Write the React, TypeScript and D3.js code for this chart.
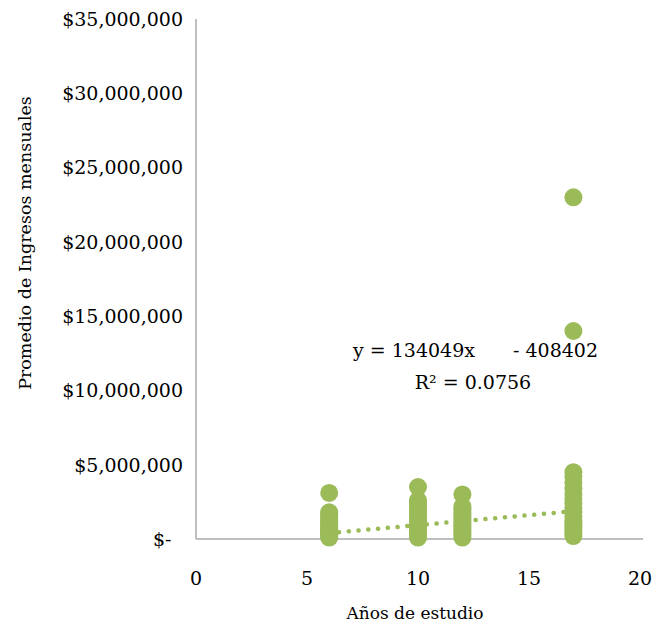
import * as d3 from 'd3';

// Años de estudio por grupo y promedio de ingresos mensuales (pesos)
const years = [6, 10, 12, 17];

const incomes6 = [
  3100000, 1800000, 1650000, 1500000, 1350000, 1200000, 1050000, 900000, 800000, 700000,
  600000, 500000, 400000, 300000, 200000, 100000,
];
const incomes10 = [
  3500000, 2600000, 2450000, 2300000, 2100000, 1900000, 1700000, 1500000, 1300000, 1150000,
  1000000, 850000, 700000, 550000, 400000, 250000, 100000,
];
const incomes12 = [
  3000000, 2200000, 2000000, 1800000, 1600000, 1400000, 1200000, 1000000, 850000, 700000,
  550000, 400000, 250000, 100000,
];
const incomes17 = [
  23000000, 14000000, 4500000, 4200000, 3800000, 3400000, 3000000, 2700000, 2400000, 2100000,
  1800000, 1500000, 1200000, 1000000, 800000, 600000, 400000, 200000,
];
const incomeGroups = [incomes6, incomes10, incomes12, incomes17];

// Línea de tendencia lineal
const slope = 134049;
const intercept = -408402;
const rSquared = '0.0756';

const xTicks = [0, 5, 10, 15, 20];
const yTicks = [0, 5000000, 10000000, 15000000, 20000000, 25000000, 30000000, 35000000];

const width = 654;
const height = 628;
const green = '#9BBB59';
const axisGrey = '#BFBFBF';
const font = '"DejaVu Serif", serif';

export default function App() {
  const x = d3.scaleLinear().domain([0, 20]).range([196, 640]);
  const y = d3.scaleLinear().domain([0, 35000000]).range([539, 19]);

  const points = years.flatMap((yr, i) => incomeGroups[i].map((v) => ({ yr, v })));

  const fmt = (v: number) => (v === 0 ? '$-' : '$' + d3.format(',')(v));

  const trendX = [d3.min(years)!, d3.max(years)!];

  return (
    <svg
      width={width}
      height={height}
      style={{ position: 'absolute', left: 0, top: 0, background: '#fff' }}
      fontFamily={font}
    >
      {/* ejes */}
      <line x1={x(0)} x2={x(0)} y1={y(35000000)} y2={y(0)} stroke={axisGrey} strokeWidth={2} />
      <line x1={x(0)} x2={x(20) + 3} y1={y(0)} y2={y(0)} stroke={axisGrey} strokeWidth={2} />

      {yTicks.map((t) => (
        <text
          key={t}
          x={t === 0 ? 153 : 183}
          y={y(t)}
          dy="0.36em"
          textAnchor={t === 0 ? 'start' : 'end'}
          fontSize={19}
          fill="#000"
        >
          {fmt(t)}
        </text>
      ))}

      {xTicks.map((t) => (
        <text key={t} x={x(t)} y={578} dy="0.36em" textAnchor="middle" fontSize={19} fill="#000">
          {t}
        </text>
      ))}

      {points.map((p, i) => (
        <circle key={i} cx={x(p.yr)} cy={y(p.v)} r={9} fill={green} />
      ))}

      {/* tendencia */}
      <line
        x1={x(trendX[0])}
        y1={y(slope * trendX[0] + intercept)}
        x2={x(trendX[1])}
        y2={y(slope * trendX[1] + intercept)}
        stroke={green}
        strokeWidth={4.5}
        strokeLinecap="round"
        strokeDasharray="0.1 9.7"
      />

      <text x={353} y={357} fontSize={19} fill="#000">
        {`y = ${slope}x`}
      </text>
      <text x={598} y={357} fontSize={19} fill="#000" textAnchor="end">
        {`- ${Math.abs(intercept)}`}
      </text>
      <text x={473} y={389} fontSize={19} fill="#000" textAnchor="middle">
        {`R² = ${rSquared}`}
      </text>

      <text x={415} y={613} dy="0.36em" textAnchor="middle" fontSize={17} fill="#000">
        Años de estudio
      </text>
      <text
        transform={`translate(25,243) rotate(-90)`}
        dy="0.36em"
        textAnchor="middle"
        fontSize={17.5}
        fill="#000"
      >
        Promedio de Ingresos mensuales
      </text>
    </svg>
  );
}
